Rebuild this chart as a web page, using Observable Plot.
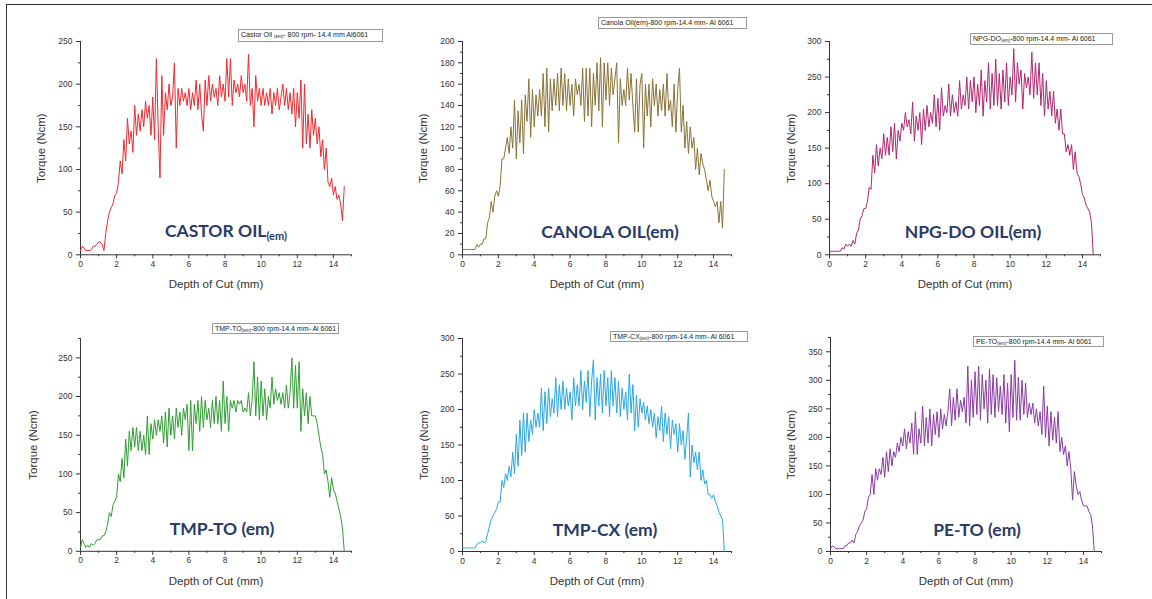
<!DOCTYPE html>
<html><head><meta charset="utf-8">
<script src="https://cdn.jsdelivr.net/npm/d3@7"></script>
<script src="https://cdn.jsdelivr.net/npm/@observablehq/plot@0.6"></script>
<style>
body{margin:0;background:#fff;}
#wrap{position:relative;width:1152px;height:599px;overflow:hidden;background:#fff;}
#frame{position:absolute;left:6px;top:4px;width:1200px;height:700px;border-left:1.5px solid #333;border-top:1.5px solid #333;}
.panel{position:absolute;}
.legend{position:absolute;font:7px "Liberation Sans",Arial,sans-serif;color:#222;border:1px solid #999;padding:0 2px;white-space:nowrap;line-height:10px;background:#fff;box-sizing:border-box}
.legend sub{font-size:4.5px;vertical-align:-1px}
.big{position:absolute;transform:translate(-50%,-50%);font:bold 17.5px Lato,"Open Sans",sans-serif;color:#293b69;white-space:nowrap}
.big sub{font-size:11px;vertical-align:-3px}
</style>
</head><body>
<div id="wrap"><div id="frame"></div></div>
<script>
// ---------------- data ----------------
const depth = [0,0.1,0.2,0.3,0.4,0.5,0.6,0.7,0.8,0.9,1,1.1,1.2,1.3,1.4,1.5,1.6,1.7,1.8,1.9,2,2.1,2.2,2.3,2.4,2.5,2.6,2.7,2.8,2.9,3,3.1,3.2,3.3,3.4,3.5,3.6,3.7,3.8,3.9,4,4.1,4.2,4.3,4.4,4.5,4.6,4.7,4.8,4.9,5,5.1,5.2,5.3,5.4,5.5,5.6,5.7,5.8,5.9,6,6.1,6.2,6.3,6.4,6.5,6.6,6.7,6.8,6.9,7,7.1,7.2,7.3,7.4,7.5,7.6,7.7,7.8,7.9,8,8.1,8.2,8.3,8.4,8.5,8.6,8.7,8.8,8.9,9,9.1,9.2,9.3,9.4,9.5,9.6,9.7,9.8,9.9,10,10.1,10.2,10.3,10.4,10.5,10.6,10.7,10.8,10.9,11,11.1,11.2,11.3,11.4,11.5,11.6,11.7,11.8,11.9,12,12.1,12.2,12.3,12.4,12.5,12.6,12.7,12.8,12.9,13,13.1,13.2,13.3,13.4,13.5,13.6,13.7,13.8,13.9,14,14.1,14.2,14.3,14.4,14.5,14.6];

const castor = [5,10,8,5,5,5,6,10,10,12, 15,15,12,5,25,40,50,55,60,70, 72,85,110,95,135,110,160,130,145,120, 175,140,165,145,170,150,180,160,175,140, 185,135,230,150,90,210,140,190,170,200, 175,185,225,125,195,175,195,180,190,175, 195,170,190,175,205,170,200,165,145,205, 175,210,180,200,185,195,175,210,185,200, 180,230,185,230,175,205,190,200,185,210, 190,200,180,235,175,195,150,210,180,195, 175,195,175,190,175,195,165,190,175,195, 170,185,200,175,195,170,190,165,195,150, 190,160,205,125,200,130,165,125,170,140, 160,130,150,115,135,100,125,85,80,90, 70,80,65,70,60,40,80];

const canola = [5,5,5,5,5,5,5,5,10,7, 10,10,15,15,30,35,50,40,55,60, 55,65,90,90,100,110,95,120,100,145, 90,135,105,145,95,150,125,165,110,155, 120,150,130,155,130,170,120,175,115,165, 135,165,140,170,135,175,140,170,135,165, 140,160,130,165,150,160,140,175,125,175, 130,175,120,170,140,180,135,185,120,180, 145,180,140,175,150,165,180,105,165,140, 155,140,175,145,170,140,115,165,115,160, 170,100,160,130,160,120,165,140,160,130, 155,135,160,130,170,135,145,120,160,115, 155,175,115,140,100,125,95,120,100,110, 80,100,75,95,85,80,70,60,70,55, 50,45,50,30,50,25,80];

const npgdo = [5,5,5,5,5,5,5,10,8,15, 12,15,12,20,15,30,35,50,55,65, 65,75,95,92,140,115,155,125,150,135, 170,140,165,140,180,145,185,135,175,160, 185,175,200,180,190,170,215,160,195,175, 200,155,205,175,210,180,200,185,225,180, 220,175,235,195,210,200,240,195,225,200, 215,195,245,205,225,210,250,205,245,215, 250,200,240,210,260,195,245,215,270,205, 255,210,275,210,255,205,260,215,270,210, 250,225,290,215,270,240,260,205,255,235, 250,225,285,220,270,225,270,210,255,195, 245,205,230,195,230,185,205,175,205,170, 170,145,155,140,155,120,145,115,110,100, 85,80,70,65,60,45,0];

const tmpto = [5,15,10,5,8,5,10,8,10,15, 15,15,20,20,25,35,50,45,60,65, 70,100,90,120,95,145,110,155,130,160, 135,160,130,155,130,150,125,175,125,165, 145,170,150,170,155,175,140,180,135,185, 150,175,145,185,160,180,150,185,170,190, 130,195,130,190,165,195,155,200,160,195, 170,185,160,195,165,200,165,195,155,220, 165,200,155,195,185,195,180,195,190,195, 180,185,180,205,175,195,245,175,225,170, 220,175,210,170,200,185,225,190,210,195, 205,190,205,185,215,185,205,250,185,240, 185,245,155,210,175,205,165,200,175,175, 175,165,150,135,125,100,105,90,70,95, 80,75,65,55,45,30,0];

const tmpcx = [5,5,5,5,5,5,5,5,10,12, 12,15,12,15,25,35,45,50,55,60, 70,70,100,90,110,100,120,105,140,110, 165,120,185,135,195,140,195,155,185,165, 200,175,195,175,230,170,225,180,230,190, 215,195,245,190,235,200,240,200,230,205, 225,185,245,205,235,205,255,200,240,210, 255,190,240,270,185,245,205,250,195,255, 205,245,190,255,205,245,195,240,190,230, 200,225,185,250,195,235,170,220,175,215, 195,210,185,205,180,200,175,195,160,190, 170,205,155,195,165,190,145,185,165,180, 140,180,150,170,130,160,195,105,150,125, 140,115,140,100,115,95,100,80,80,75, 80,70,65,55,50,45,0];

const peto = [5,10,8,5,5,5,5,5,10,10, 15,15,20,15,30,35,45,50,55,70, 75,95,100,135,100,145,125,145,135,165, 130,175,140,180,150,175,165,190,175,200, 185,215,180,210,190,225,170,245,170,215, 190,255,185,235,190,250,185,240,205,245, 200,250,215,240,220,245,285,220,270,230, 285,235,265,245,270,225,325,220,300,235, 315,240,325,230,310,250,300,225,320,240, 310,235,305,245,290,240,310,225,295,210, 310,235,335,230,305,230,300,240,295,235, 260,240,260,225,250,220,245,205,290,200, 255,185,245,195,235,190,245,175,200,170, 185,150,175,145,90,140,115,100,105,90, 80,80,80,70,65,45,0];

const xTicks = [0,2,4,6,8,10,12,14];
const xMinor = [1,3,5,7,9,11,13,15];
const yTicks250 = [0,50,100,150,200,250];
const yMinor250 = [25,75,125,175,225];
const yTicks200 = [0,20,40,60,80,100,120,140,160,180,200];
const yMinor200 = [10,30,50,70,90,110,130,150,170,190];
const yTicks300 = [0,50,100,150,200,250,300];
const yMinor300 = [25,75,125,175,225,275];
const yMinor275 = [25,75,125,175,225,275];
const yTicks350 = [0,50,100,150,200,250,300,350];
const yMinor375 = [25,75,125,175,225,275,325,375];
const yMax = [250,200,300,275,300,375];

const titles = ["CASTOR OIL<sub>(em)</sub>","CANOLA OIL(em)","NPG-DO OIL(em)","TMP-TO (em)","TMP-CX (em)","PE-TO (em)"];
const legends = ["Castor Oil <sub>(em)</sub>- 800 rpm- 14.4 mm Al6061","Canola Oil(em)-800 rpm-14.4 mm- Al 6061","NPG-DO<sub>(em)</sub>-800 rpm-14.4 mm- Al 6061","TMP-TO<sub>(em)</sub>-800 rpm-14.4 mm- Al 6061","TMP-CX<sub>(em)</sub>-800 rpm-14.4 mm- Al 6061","PE-TO<sub>(em)</sub>-800 rpm-14.4 mm- Al 6061"];
const series = [castor, canola, npgdo, tmpto, tmpcx, peto];
const colors = ["#f0282e","#8a7237","#b3256f","#2f9e31","#2aa7e6","#8b3aa6"];
const yTickSets = [yTicks250, yTicks200, yTicks300, yTicks250, yTicks300, yTicks350];
const yMinorSets = [yMinor250, yMinor200, yMinor300, yMinor275, yMinor300, yMinor375];

// ---------------- layout ----------------
const layout = [
  {x0:80, x15:351, yTop:40.7, y0:254, yl:38, leg:[238,29,145,13], big:[226,231]},
  {x0:462, x15:731, yTop:40.7, y0:254, yl:38, leg:[598,17,149,12], big:[610,231]},
  {x0:829, x15:1100, yTop:40.7, y0:254, yl:37, leg:[970,33,143,12], big:[973,231]},
  {x0:80, x15:351, yTop:338.2, y0:551, yl:46, leg:[212,323,127,11], big:[222,528]},
  {x0:462, x15:731, yTop:338, y0:551, yl:37, leg:[610,331,138,11], big:[605,529]},
  {x0:830, x15:1101, yTop:337, y0:551, yl:38, leg:[973,336,131,11], big:[977,529]}
];

const wrap = document.getElementById("wrap");
const mL = 62, mR = 10, mT = 12, mB = 44;
const axisColor = "#333";
const titleSize = 11.5;
layout.forEach((L, i) => {
  const rows = depth.map((d, j) => ({depth: d, torque: series[i][j]}));
  const w = L.x15 - L.x0, h = L.y0 - L.yTop;
  const plot = Plot.plot({
    width: w + mL + mR, height: h + mT + mB,
    marginLeft: mL, marginRight: mR, marginTop: mT, marginBottom: mB,
    x: {domain: [0, 15]},
    y: {domain: [0, yMax[i]]},
    style: {background: "transparent", color: axisColor, fontFamily: '"Liberation Sans", Arial, sans-serif', fontSize: "8.5px", overflow: "visible"},
    marks: [
      Plot.ruleX([0], {stroke: axisColor, strokeWidth: 1}),
      Plot.ruleY([0], {stroke: axisColor, strokeWidth: 1}),
      Plot.axisX({ticks: xTicks, tickSize: 4, tickPadding: 2, label: null, fontSize: 8.5}),
      Plot.axisX({ticks: xMinor, tickSize: 2, tickFormat: () => "", label: null}),
      Plot.axisY({ticks: yTickSets[i], tickSize: 4, tickPadding: 4, label: null, fontSize: 8.5}),
      Plot.axisY({ticks: yMinorSets[i], tickSize: 2, tickFormat: () => "", label: null}),
      Plot.axisX({ticks: [], label: "Depth of Cut (mm)", labelAnchor: "center", labelOffset: 27.5 + titleSize / 2, labelArrow: "none", fontSize: titleSize}),
      Plot.axisY({ticks: [], label: "Torque (Ncm)", labelAnchor: "center", labelOffset: L.yl + titleSize / 2, labelArrow: "none", fontSize: titleSize}),
      Plot.line(rows, {x: "depth", y: "torque", stroke: colors[i], strokeWidth: 1})
    ]
  });
  const div = document.createElement("div");
  div.className = "panel";
  div.style.left = (L.x0 - mL) + "px";
  div.style.top = (L.yTop - mT) + "px";
  div.appendChild(plot);
  wrap.appendChild(div);

  const lg = document.createElement("div");
  lg.className = "legend";
  lg.style.left = L.leg[0] + "px"; lg.style.top = L.leg[1] + "px";
  lg.style.width = L.leg[2] + "px"; lg.style.height = L.leg[3] + "px";
  lg.innerHTML = legends[i];
  wrap.appendChild(lg);

  const bg = document.createElement("div");
  bg.className = "big";
  bg.style.left = L.big[0] + "px"; bg.style.top = L.big[1] + "px";
  bg.innerHTML = titles[i];
  wrap.appendChild(bg);
});
</script>
</body></html>
